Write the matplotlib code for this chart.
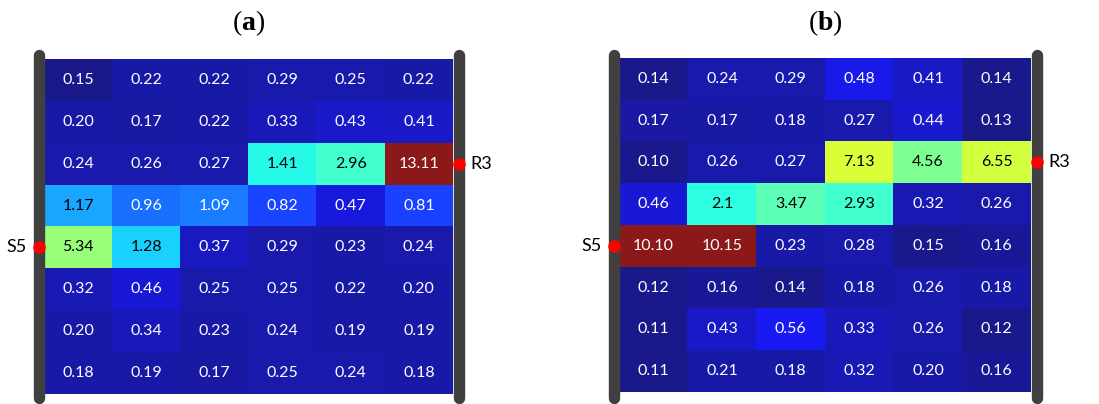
import numpy as np
import matplotlib
matplotlib.use("Agg")
import matplotlib.pyplot as plt
from matplotlib.colors import ListedColormap, FuncNorm
from matplotlib.transforms import blended_transform_factory

plt.rcParams['mathtext.fontset'] = 'custom'
plt.rcParams['mathtext.rm'] = 'Liberation Serif'
plt.rcParams['mathtext.bf'] = 'Liberation Serif:bold'

# cell labels, rows top -> bottom, columns left -> right
labels_a = [
    ["0.15", "0.22", "0.22", "0.29", "0.25", "0.22"],
    ["0.20", "0.17", "0.22", "0.33", "0.43", "0.41"],
    ["0.24", "0.26", "0.27", "1.41", "2.96", "13.11"],
    ["1.17", "0.96", "1.09", "0.82", "0.47", "0.81"],
    ["5.34", "1.28", "0.37", "0.29", "0.23", "0.24"],
    ["0.32", "0.46", "0.25", "0.25", "0.22", "0.20"],
    ["0.20", "0.34", "0.23", "0.24", "0.19", "0.19"],
    ["0.18", "0.19", "0.17", "0.25", "0.24", "0.18"],
]
labels_b = [
    ["0.14", "0.24", "0.29", "0.48", "0.41", "0.14"],
    ["0.17", "0.17", "0.18", "0.27", "0.44", "0.13"],
    ["0.10", "0.26", "0.27", "7.13", "4.56", "6.55"],
    ["0.46", "2.1", "3.47", "2.93", "0.32", "0.26"],
    ["10.10", "10.15", "0.23", "0.28", "0.15", "0.16"],
    ["0.12", "0.16", "0.14", "0.18", "0.26", "0.18"],
    ["0.11", "0.43", "0.56", "0.33", "0.26", "0.12"],
    ["0.11", "0.21", "0.18", "0.32", "0.20", "0.16"],
]
titles = ["a", "b"]
source_row = 4    # S5, left wall
receiver_row = 2  # R3, right wall

# colour scale: value stops -> position on the jet ramp
scale_vals = [0.0, 0.15, 0.17, 0.30, 0.33, 0.45, 0.48, 0.56, 0.82, 0.96, 1.10,
              1.17, 1.28, 1.41, 2.1, 2.95, 3.47, 4.56, 5.34, 6.55, 7.2, 10.0]
scale_pos = [0.0, 0.0, 0.027, 0.035, 0.045, 0.065, 0.09, 0.10, 0.173, 0.22, 0.235,
             0.28, 0.325, 0.37, 0.378, 0.405, 0.44, 0.485, 0.52, 0.60, 0.61, 1.0]


def fwd(v):
    return np.interp(v, scale_vals, scale_pos)


def inv(p):
    return np.interp(p, scale_pos, scale_vals)


norm = FuncNorm((fwd, inv), vmin=0.0, vmax=10.0)
# jet, slightly washed out (alpha 0.9 over white)
jet = plt.get_cmap('jet')(np.linspace(0, 1, 256))[:, :3]
cmap = ListedColormap(jet * 0.9 + 0.1)

fig = plt.figure(figsize=(10.99, 4.04), dpi=100)
W, H = 1099, 404
boxes = [(44, 453, 59, 394), (619, 1031, 58, 392)]
BAR = '#404040'

for labels, title, (x0, x1, y0, y1) in zip([labels_a, labels_b], titles, boxes):
    ax = fig.add_axes([x0 / W, 1 - y1 / H, (x1 - x0) / W, (y1 - y0) / H])
    vals = np.array([[float(s) for s in row] for row in labels])
    ax.imshow(vals, cmap=cmap, norm=norm, aspect='auto', interpolation='nearest')
    nr, nc = vals.shape
    for i in range(nr):
        for j in range(nc):
            p = fwd(vals[i, j])
            tc = 'black' if 0.265 < p < 0.8 else 'white'
            ax.text(j, i, labels[i][j], ha='center', va='center', color=tc,
                    fontsize=11.5, family='Lato')
    ax.set_xticks([])
    ax.set_yticks([])
    for s in ax.spines.values():
        s.set_visible(False)

    # walls on both sides
    pw = x1 - x0
    ph = y1 - y0
    dx = 5.5 / pw
    ytop = 1 + (y0 - 54.5) / ph
    ybot = -(403 - 5.5 - y1) / ph
    for xa in (-dx, 1 + dx):
        ax.plot([xa, xa], [ybot, ytop], color=BAR, lw=8.2, solid_capstyle='round',
                transform=ax.transAxes, clip_on=False, zorder=5)

    # source / receiver markers
    tr = blended_transform_factory(ax.transAxes, ax.transData)
    ax.plot([-dx], [source_row], 'o', color='red', ms=8, transform=tr,
            clip_on=False, zorder=6)
    ax.text(-dx - 12 / pw, source_row, 'S5', ha='right', va='center',
            fontsize=13, family='Lato', transform=tr)
    ax.plot([1 + dx], [receiver_row], 'o', color='red', ms=8, transform=tr,
            clip_on=False, zorder=6)
    ax.text(1 + dx + 12 / pw, receiver_row, 'R3', ha='left', va='center',
            fontsize=13, family='Lato', transform=tr)

    ax.text(0.5, 1 + (y0 - 23) / ph, r'$\mathrm{(}\mathbf{' + title + r'}\mathrm{)}$',
            ha='center', va='center', fontsize=20, transform=ax.transAxes)

fig.savefig('out.png', dpi=100)
